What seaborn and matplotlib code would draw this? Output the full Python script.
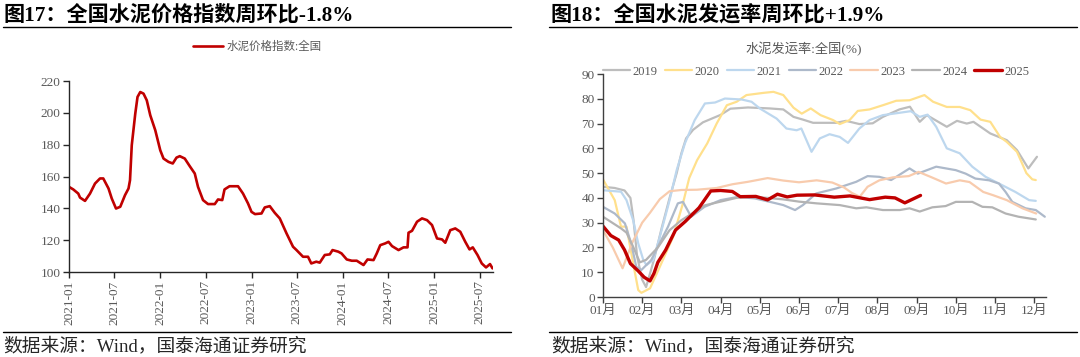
import pandas as pd
import matplotlib
matplotlib.use("Agg")
import matplotlib.pyplot as plt
import matplotlib.dates as mdates
from matplotlib.lines import Line2D
import seaborn as sns

# ---------- data: cement price index (left) ----------
price_dates = [
    "2021-01-01", "2021-01-18", "2021-02-07", "2021-02-14", "2021-03-06", "2021-03-26",
    "2021-04-15", "2021-05-05", "2021-05-18", "2021-06-08", "2021-06-21", "2021-07-08",
    "2021-07-25", "2021-08-13", "2021-08-27", "2021-09-02", "2021-09-09", "2021-09-23",
    "2021-10-02", "2021-10-13", "2021-10-26", "2021-11-08", "2021-11-22", "2021-12-12",
    "2022-01-01", "2022-01-14", "2022-02-03", "2022-02-20", "2022-03-07", "2022-03-20",
    "2022-04-09", "2022-04-29", "2022-05-19", "2022-06-01", "2022-06-21", "2022-07-11",
    "2022-08-07", "2022-08-20", "2022-09-06", "2022-09-15", "2022-10-05", "2022-11-08",
    "2022-11-28", "2022-12-18", "2023-01-01", "2023-01-15", "2023-02-10", "2023-02-23",
    "2023-03-15", "2023-04-04", "2023-04-24", "2023-05-21", "2023-06-16", "2023-06-30",
    "2023-07-26", "2023-08-15", "2023-08-28", "2023-09-17", "2023-10-01", "2023-10-21",
    "2023-11-10", "2023-11-21", "2023-12-14", "2023-12-27", "2024-01-17", "2024-02-06",
    "2024-02-26", "2024-03-24", "2024-04-09", "2024-05-03", "2024-05-16", "2024-05-30",
    "2024-06-19", "2024-07-02", "2024-07-16", "2024-08-11", "2024-08-31", "2024-09-16",
    "2024-09-20", "2024-10-04", "2024-10-24", "2024-11-13", "2024-12-03", "2024-12-23",
    "2025-01-12", "2025-02-01", "2025-02-14", "2025-03-06", "2025-03-26", "2025-04-15",
    "2025-05-05", "2025-05-22", "2025-06-04", "2025-06-23", "2025-07-10", "2025-07-27",
    "2025-08-12", "2025-08-22",
]
price_values = [
    153.5, 151.9, 149.3, 146.8, 144.7, 149.3,
    155.6, 158.8, 158.8, 152.5, 146.2, 139.9,
    141.0, 148.3, 152.5, 157.7, 179.7, 199.5,
    210.0, 213.1, 212.1, 207.9, 198.5, 189.1,
    176.5, 171.3, 169.2, 168.2, 171.9, 172.8,
    171.3, 166.5, 161.9, 153.5, 145.2, 142.7,
    142.7, 145.6, 145.2, 151.9, 153.9, 153.9,
    149.3, 143.1, 137.8, 136.4, 136.8, 140.6,
    141.4, 137.2, 133.7, 124.3, 115.9, 113.8,
    109.6, 109.6, 105.4, 106.5, 105.9, 110.7,
    111.1, 113.8, 112.8, 111.7, 107.9, 107.1,
    107.1, 104.4, 107.9, 107.5, 111.7, 116.9,
    118.0, 119.0, 116.3, 113.8, 115.5, 115.5,
    124.7, 125.9, 131.6, 133.7, 132.6, 129.5,
    121.1, 120.5, 118.4, 126.3, 127.4, 125.3,
    119.0, 114.2, 115.5, 110.7, 105.4, 102.9,
    105.0, 102.3,
]
price_ticks = ["2021-01", "2021-07", "2022-01", "2022-07", "2023-01", "2023-07",
               "2024-01", "2024-07", "2025-01", "2025-07"]

# ---------- data: cement dispatch rate (right), x = months since Jan 1 ----------
m2019 = [0, 0.3, 0.55, 0.7, 0.78, 0.87, 1.0, 1.1, 1.3, 1.5, 1.7, 1.88, 2.0, 2.12, 2.3, 2.55,
         3.0, 3.25, 3.7, 4.26, 4.6, 4.86, 5.1, 5.36, 5.95, 6.2, 6.54, 6.88, 7.14, 7.56, 7.83,
         8.08, 8.26, 8.77, 9.03, 9.28, 9.45, 9.88, 10.3, 10.56, 10.85, 11.07]
v2019 = [44.5, 44, 43, 40, 31, 16.5, 7, 4, 15, 28, 40, 50, 58, 64, 67.5, 70.5,
         73.5, 76, 76.5, 76.1, 75.7, 72.7, 71.6, 70.3, 70.3, 71.1, 69.8, 70.1, 72.7, 75.7, 76.8,
         70.7, 73.4, 68.7, 71.1, 70, 70.7, 66, 63.3, 59.3, 51.9, 56.6]

m2020 = [0, 0.3, 0.46, 0.6, 0.77, 0.9, 0.98, 1.2, 1.45, 1.79, 2.04, 2.2, 2.4, 2.66, 2.9, 3.16,
         3.41, 3.66, 4.1, 4.35, 4.6, 4.86, 5.07, 5.3, 5.55, 5.87, 6.04, 6.29, 6.5, 6.8, 7.14,
         7.48, 7.82, 8.2, 8.42, 8.77, 9.1, 9.37, 9.63, 9.88, 10.13, 10.3, 10.56, 10.8, 10.95, 11.04]
v2020 = [47.5, 39.1, 28.4, 28.4, 13.6, 2.8, 1.7, 3.5, 12.2, 24.3, 37.8, 48, 55.2, 62, 70, 77.4,
         78.8, 81.5, 82.4, 82.8, 81.5, 76.4, 74, 76.1, 73.4, 71.4, 69.8, 71.4, 75.1, 75.7, 77.4,
         79.2, 79.4, 81.5, 78.8, 76.7, 76.7, 75.4, 71.6, 70.7, 64.6, 62.6, 58.6, 50, 47.5, 47.2]

m2021 = [0, 0.46, 0.6, 0.77, 0.9, 1.03, 1.11, 1.28, 1.45, 1.7, 1.88, 2.09, 2.34, 2.6, 2.86, 3.11,
         3.54, 3.79, 4.0, 4.43, 4.68, 4.94, 5.06, 5.19, 5.32, 5.53, 5.78, 6.04, 6.25, 6.54, 6.8,
         7.14, 7.5, 7.85, 8.08, 8.28, 8.5, 8.77, 9.1, 9.42, 9.76, 10.1, 10.52, 10.87, 11.04]
v2021 = [43.1, 42.5, 39.1, 31, 21.6, 14.9, 12.9, 14.9, 24.3, 39.1, 51.2, 62, 71.4, 78.1, 78.5, 80.1,
         79.7, 78.8, 76.1, 72, 68, 67.3, 68, 63.3, 58.6, 64, 65.7, 64.6, 62.2, 68, 71.4,
         73.4, 74.2, 75, 72.7, 73.6, 68.7, 60, 58, 52.6, 48.5, 45.8, 42.4, 39.1, 38.8]

m2022 = [0, 0.3, 0.56, 0.72, 0.85, 0.98, 1.23, 1.66, 1.91, 2.04, 2.25, 2.59, 3.0, 3.44, 3.87,
         4.26, 4.6, 4.9, 5.1, 5.44, 5.95, 6.46, 6.75, 7.05, 7.35, 7.82, 8.03, 8.5, 9.0, 9.25,
         9.5, 9.85, 10.1, 10.27, 10.44, 10.78, 11.04, 11.27]
v2022 = [36.4, 33.7, 29.7, 21.6, 12.2, 10.9, 14.9, 28.4, 37.8, 38.4, 32.4, 36.4, 39.1, 40.4, 39.8,
         38.4, 37.1, 35.1, 37.1, 41.8, 43.8, 46.5, 48.8, 48.5, 47.2, 51.9, 49.8, 52.6, 51.2, 49.8,
         47.8, 47.1, 45.8, 42.4, 38.4, 35.8, 35.1, 32.4]

m2023 = [0, 0.25, 0.5, 0.75, 1.0, 1.2, 1.45, 1.7, 2.0, 2.4, 2.9, 3.3, 3.7, 4.2, 4.6, 5.0, 5.45,
         5.85, 6.15, 6.35, 6.55, 6.75, 7.05, 7.4, 7.8, 8.05, 8.4, 8.75, 9.1, 9.35, 9.7, 9.95,
         10.3, 10.7, 11.05]
v2023 = [27, 20, 11.6, 22, 30, 34, 39.5, 42.7, 43.2, 43.3, 44, 45.5, 46.5, 48, 47, 46.3, 47.1,
         46.2, 44.2, 42, 40.5, 44.5, 47.1, 48.3, 48.8, 50.5, 48.2, 45.8, 47.1, 46.4, 42.4, 41.1,
         39.1, 35.8, 33.7]

m2024 = [0, 0.46, 0.6, 0.77, 0.94, 1.1, 1.4, 1.7, 2.0, 2.3, 2.6, 3.0, 3.4, 3.75, 4.2, 4.6, 5.0,
         5.45, 6.04, 6.46, 6.72, 7.14, 7.57, 7.82, 8.08, 8.4, 8.74, 9.0, 9.42, 9.68, 9.93, 10.27,
         10.6, 11.04]
v2024 = [32.4, 27.7, 26, 20.3, 14, 15, 20, 27, 31, 34, 37, 38.5, 40, 40.5, 40, 39.4, 38.5,
         37.8, 37.1, 35.8, 36.2, 35.1, 35.1, 35.8, 34.5, 36.2, 36.7, 38.4, 38.4, 36.4, 36.2, 33.7,
         32.4, 31.3]

m2025 = [0, 0.2, 0.4, 0.55, 0.7, 0.9, 1.05, 1.2, 1.3, 1.4, 1.6, 1.85, 2.1, 2.45, 2.75, 3.0, 3.3,
         3.5, 3.9, 4.2, 4.45, 4.7, 4.95, 5.4, 5.9, 6.3, 6.8, 7.2, 7.45, 7.7, 7.9, 8.1]
v2025 = [28.6, 24.8, 23, 19, 13.5, 10.5, 8, 6.5, 9.5, 14, 19, 27, 30.5, 36, 42.8, 43, 42.6,
         40.5, 40.6, 39.2, 41.5, 40.4, 41.1, 41.2, 40.3, 40.8, 39.3, 40.3, 40, 38, 39.5, 41]

month_labels = ["01月", "02月", "03月", "04月", "05月", "06月",
                "07月", "08月", "09月", "10月", "11月", "12月"]

series = [
    ("2019", m2019, v2019, "#BDBDBD", 1.6),
    ("2020", m2020, v2020, "#FFE08C", 1.6),
    ("2021", m2021, v2021, "#BDD7EE", 1.6),
    ("2022", m2022, v2022, "#ADB9CA", 1.6),
    ("2023", m2023, v2023, "#F8CBAD", 1.6),
    ("2024", m2024, v2024, "#B3B3B3", 1.6),
    ("2025", m2025, v2025, "#C00000", 2.4),
]

# ---------- style ----------
sns.set_theme(style="white")
plt.rcParams['font.family'] = ['Liberation Serif', 'Noto Sans CJK SC']
plt.rcParams['axes.unicode_minus'] = False
GRAY = "#595959"

fig = plt.figure(figsize=(10.8, 3.57), dpi=100)

# titles and rules
fig.text(0.003, 0.958, "图17：全国水泥价格指数周环比-1.8%", fontsize=15.2, fontweight="bold",
         va="center", ha="left", color="black")
fig.text(0.510, 0.958, "图18：全国水泥发运率周环比+1.9%", fontsize=15.2, fontweight="bold",
         va="center", ha="left", color="black")
for x0, x1 in [(0.003, 0.473), (0.508, 0.997)]:
    fig.add_artist(Line2D([x0, x1], [0.924, 0.924], color="black", lw=1.0))
    fig.add_artist(Line2D([x0, x1], [0.070, 0.070], color="black", lw=1.0))
fig.text(0.003, 0.031, "数据来源：Wind，国泰海通证券研究", fontsize=13.5, va="center", ha="left")
fig.text(0.510, 0.031, "数据来源：Wind，国泰海通证券研究", fontsize=13.5, va="center", ha="left")

# ---------- left: price index ----------
ax1 = fig.add_axes([0.0639, 0.238, 0.3926, 0.535])
df_price = pd.DataFrame({"date": pd.to_datetime(price_dates), "value": price_values})
sns.lineplot(data=df_price, x="date", y="value", ax=ax1, color="#C00000", lw=1.9,
             label="水泥价格指数:全国", estimator=None)
ax1.set_xlim(pd.Timestamp("2021-01-01"), pd.Timestamp("2025-08-24"))
ax1.set_ylim(100, 220)
ax1.set_yticks(range(100, 221, 20))
ax1.set_xticks(pd.to_datetime([t + "-01" for t in price_ticks]))
ax1.xaxis.set_major_formatter(mdates.DateFormatter("%Y-%m"))
ax1.set_xlabel("")
ax1.set_ylabel("")
ax1.legend(loc="center", bbox_to_anchor=(0.445, 1.18), frameon=False, fontsize=8.3,
           handlelength=2.6, handletextpad=0.3, labelcolor=GRAY)
for s in ["top", "right"]:
    ax1.spines[s].set_visible(False)
for s in ["left", "bottom"]:
    ax1.spines[s].set_color("#262626")
    ax1.spines[s].set_linewidth(1.0)
ax1.tick_params(axis="both", direction="out", length=4, width=1, color="#262626",
                labelsize=9.5, labelcolor=GRAY, left=True, bottom=True, pad=2)
ax1.tick_params(axis="x", labelrotation=90)

# ---------- right: dispatch rate ----------
ax2 = fig.add_axes([0.5583, 0.168, 0.4102, 0.6247])
for name, mx, vy, col, lw in series:
    sns.lineplot(x=mx, y=vy, ax=ax2, color=col, lw=lw, label=name, estimator=None)
ax2.set_xlim(0, 11.3)
ax2.set_ylim(0, 90)
ax2.set_yticks(range(0, 91, 10))
ax2.set_xticks(range(12))
ax2.set_xticklabels(month_labels)
ax2.set_xlabel("")
ax2.set_ylabel("")
ax2.legend(loc="center", bbox_to_anchor=(0.481, 1.01), ncol=7, frameon=False, fontsize=9,
           handlelength=2.2, handletextpad=0.2, columnspacing=0.55, labelcolor=GRAY)
fig.text(0.744, 0.863, "水泥发运率:全国(%)", fontsize=9.5, color=GRAY, ha="center", va="center")
for s in ["top", "right"]:
    ax2.spines[s].set_visible(False)
for s in ["left", "bottom"]:
    ax2.spines[s].set_color("#404040")
    ax2.spines[s].set_linewidth(1.0)
ax2.tick_params(axis="both", direction="out", length=4, width=1, color="#404040",
                labelsize=9.5, labelcolor=GRAY, left=True, bottom=True, pad=2)

fig.savefig("out.png", dpi=100)
